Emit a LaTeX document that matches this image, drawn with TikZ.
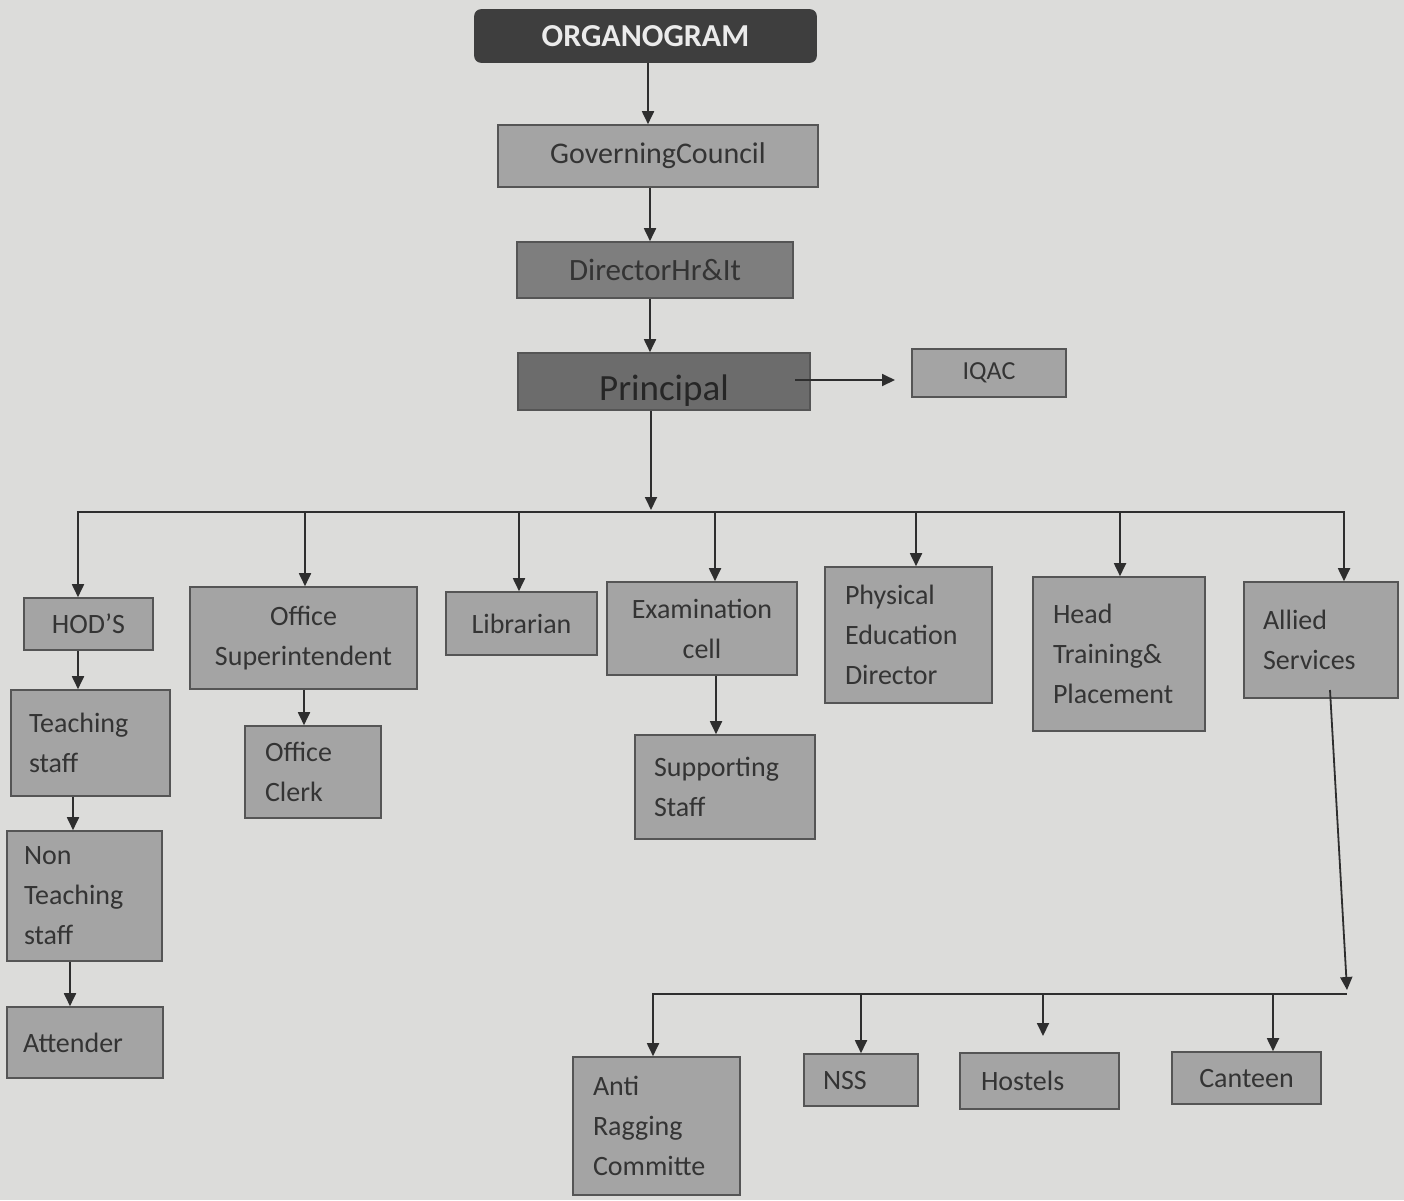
\documentclass[tikz,border=0pt]{standalone}
\usepackage{fontspec}
\setmainfont{Carlito}
\usetikzlibrary{arrows.meta,calc}
\definecolor{bgcol}{HTML}{DCDCDA}
\definecolor{boxfill}{HTML}{A4A4A4}
\definecolor{edgecol}{HTML}{555555}
\definecolor{txtcol}{HTML}{343434}
\definecolor{linecol}{HTML}{2E2E2E}
\definecolor{darkfill}{HTML}{3E3E3E}
\definecolor{dirfill}{HTML}{7E7E7E}
\definecolor{prinfill}{HTML}{6C6C6C}
\begin{document}
\begin{tikzpicture}[x=1pt,y=-1pt,
  box/.style={draw=edgecol, fill=boxfill, line width=1.6pt, inner sep=0pt, text=txtcol, font=\fontsize{28}{40}\selectfont},
  arr/.style={draw=linecol, line width=1.8pt, -{Triangle[length=13pt,width=12pt]}},
  busline/.style={draw=linecol, line width=1.8pt}]
\fill[bgcol] (0,0) rectangle (1404,1200);
\useasboundingbox (0,0) rectangle (1404,1200);

% top chain
\node[box, fill=darkfill, draw=darkfill, rounded corners=6pt, minimum width=341, minimum height=52, text=white!92!black, font=\fontsize{32}{38}\selectfont\bfseries] (org) at (645.5,36) {ORGANOGRAM};
\node[box, minimum width=320, minimum height=62, font=\fontsize{30}{36}\selectfont] (gov) at (658,156) {GoverningCouncil};
\node[box, fill=dirfill, minimum width=276, minimum height=56, font=\fontsize{31}{36}\selectfont] (dir) at (655,270) {DirectorHr\&It};
\node[box, fill=prinfill, minimum width=292, minimum height=57, font=\fontsize{37}{42}\selectfont, text=black!85] (prin) at (664,381.5) {\raisebox{-19pt}[0pt][0pt]{Principal}};
\node[box, minimum width=154, minimum height=48, font=\fontsize{26}{32}\selectfont] (iqac) at (989,373) {IQAC};

% second level
\node[box, minimum width=129, minimum height=52] (hods) at (88.5,624) {HOD’S};
\node[box, minimum width=227, minimum height=102, align=center] (offsup) at (303.5,638) {Office\\Superintendent};
\node[box, minimum width=151, minimum height=63] (lib) at (521.5,623.5) {Librarian};
\node[box, minimum width=190, minimum height=93, align=center] (exam) at (702,628.5) {Examination\\cell};
\node[box, minimum width=167, minimum height=136, text width=127, align=left] (phys) at (908.5,635) {Physical\\Education\\Director};
\node[box, minimum width=172, minimum height=154, text width=132, align=left] (head) at (1119,654) {Head\\Training\&\\Placement};
\node[box, minimum width=154, minimum height=116, text width=116, align=left] (allied) at (1321,640) {Allied\\Services};

% lower left
\node[box, minimum width=159, minimum height=106, text width=123, align=left] (teach) at (90.5,743) {Teaching\\staff};
\node[box, minimum width=155, minimum height=130, text width=121, align=left] (nont) at (84.5,896) {Non\\Teaching\\staff};
\node[box, minimum width=156, minimum height=71, text width=124, align=left] (att) at (85,1042.5) {Attender};
\node[box, minimum width=136, minimum height=92, text width=96, align=left] (clerk) at (313,772) {Office\\Clerk};
\node[box, minimum width=180, minimum height=104, text width=142, align=left] (supp) at (725,787) {Supporting\\Staff};

% allied services children
\node[box, minimum width=167, minimum height=138, text width=127, align=left] (anti) at (656.5,1126) {Anti\\Ragging\\Committe};
\node[box, minimum width=114, minimum height=52, text width=76, align=left] (nss) at (861,1080) {NSS};
\node[box, minimum width=159, minimum height=56, text width=117, align=left] (host) at (1039.5,1081) {Hostels};
\node[box, minimum width=149, minimum height=52] (cant) at (1246.5,1078) {Canteen};

% top chain arrows
\coordinate (cx) at (648,0);
\draw[arr] (cx |- org.south) -- (cx |- gov.north);
\coordinate (cy) at (650,0);
\draw[arr] (cy |- gov.south) -- (cy |- dir.north);
\draw[arr] (cy |- dir.south) -- (cy |- prin.north);
\coordinate (pq) at (795,380);
\coordinate (pqe) at (895,380);
\draw[arr] (pq) -- (pqe);

% principal bus
\coordinate (pc) at (651,0);
\coordinate (pb) at (651,510);
\draw[arr] (pc |- prin.south) -- (pb);
\coordinate (b1) at (78,512);
\coordinate (b2) at (305,512);
\coordinate (b3) at (519,512);
\coordinate (b4) at (715,512);
\coordinate (b5) at (916,512);
\coordinate (b6) at (1120,512);
\coordinate (b7) at (1344,512);
\draw[busline] ($(b1)+(-0.9,0)$) -- ($(b7)+(0.9,0)$);
\draw[arr] (b1) -- (b1 |- hods.north);
\draw[arr] (b2) -- (b2 |- offsup.north);
\draw[arr] (b3) -- (b3 |- lib.north);
\draw[arr] (b4) -- (b4 |- exam.north);
\draw[arr] (b5) -- (b5 |- phys.north);
\draw[arr] (b6) -- (b6 |- head.north);
\draw[arr] (b7) -- (b7 |- allied.north);

% sub-chains
\draw[arr] (b1 |- hods.south) -- (b1 |- teach.north);
\coordinate (c2) at (73,0);
\draw[arr] (c2 |- teach.south) -- (c2 |- nont.north);
\coordinate (c3) at (70,0);
\draw[arr] (c3 |- nont.south) -- (c3 |- att.north);
\coordinate (c4) at (304,0);
\draw[arr] (c4 |- offsup.south) -- (c4 |- clerk.north);
\coordinate (c5) at (716,0);
\draw[arr] (c5 |- exam.south) -- (c5 |- supp.north);

% allied services bus
\coordinate (as) at (1330,690);
\coordinate (ae) at (1347,990);
\draw[arr] (as) -- (ae);
\coordinate (d1) at (653,994);
\coordinate (d2) at (861,994);
\coordinate (d3) at (1043,994);
\coordinate (d3e) at (1043,1036);
\coordinate (d4) at (1273,994);
\coordinate (d5) at (1347,994);
\draw[busline] ($(d1)+(-0.9,0)$) -- (d5);
\draw[arr] (d1) -- (d1 |- anti.north);
\draw[arr] (d2) -- (d2 |- nss.north);
\draw[arr] (d3) -- (d3e);
\draw[arr] (d4) -- (d4 |- cant.north);
\end{tikzpicture}
\end{document}
